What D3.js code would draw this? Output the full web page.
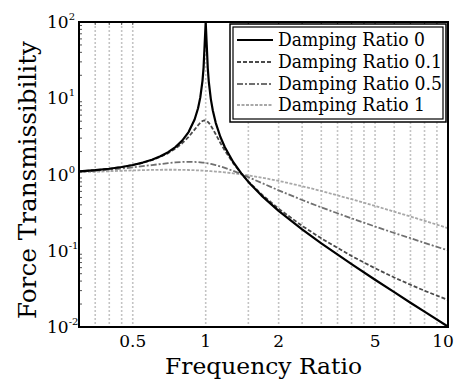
<!DOCTYPE html>
<html>
<head>
<meta charset="utf-8">
<script src="https://cdn.jsdelivr.net/npm/d3@7"></script>
<style>
  html, body { margin: 0; padding: 0; background: #fff; }
  svg { display: block; }
</style>
</head>
<body>
<svg id="chart" width="454" height="380" font-family="'DejaVu Serif', 'Liberation Serif', serif"></svg>
<script>
// ---- data ----
const frequencyRatio = [0.3, 0.35, 0.4, 0.45, 0.5, 0.55, 0.6, 0.65, 0.7, 0.75, 0.8, 0.85, 0.9, 0.93, 0.95, 0.97, 0.98, 0.99, 1.0, 1.01, 1.02, 1.03, 1.05, 1.07, 1.1, 1.15, 1.2, 1.3, 1.4, 1.5, 1.7, 2, 2.5, 3, 4, 5, 6, 7, 8, 10];
const damping0   = [1.099, 1.140, 1.190, 1.254, 1.333, 1.434, 1.563, 1.732, 1.961, 2.286, 2.778, 3.604, 5.263, 7.402, 10.26, 16.92, 25.25, 50.25, 100, 49.75, 24.75, 16.42, 9.756, 6.901, 4.762, 3.101, 2.273, 1.449, 1.042, 0.800, 0.529, 0.333, 0.1905, 0.125, 0.0667, 0.0417, 0.0286, 0.0208, 0.0159, 0.0101];
const damping01  = [1.099, 1.139, 1.189, 1.251, 1.328, 1.425, 1.547, 1.704, 1.909, 2.186, 2.571, 3.117, 3.882, 4.425, 4.766, 5.023, 5.096, 5.123, 5.099, 5.026, 4.908, 4.753, 4.373, 3.957, 3.367, 2.590, 2.052, 1.401, 1.039, 0.812, 0.550, 0.356, 0.212, 0.1454, 0.0853, 0.0589, 0.0446, 0.0358, 0.0299, 0.0226];
const damping05  = [1.090, 1.122, 1.158, 1.198, 1.240, 1.285, 1.329, 1.372, 1.409, 1.440, 1.460, 1.468, 1.463, 1.453, 1.444, 1.434, 1.428, 1.421, 1.414, 1.407, 1.399, 1.391, 1.374, 1.356, 1.328, 1.276, 1.222, 1.114, 1.014, 0.923, 0.776, 0.620, 0.463, 0.370, 0.266, 0.208, 0.171, 0.146, 0.127, 0.101];
const damping1   = [1.070, 1.087, 1.104, 1.119, 1.131, 1.141, 1.149, 1.153, 1.155, 1.154, 1.151, 1.145, 1.138, 1.132, 1.129, 1.125, 1.122, 1.120, 1.118, 1.116, 1.114, 1.111, 1.106, 1.101, 1.094, 1.080, 1.066, 1.036, 1.005, 0.973, 0.911, 0.825, 0.703, 0.608, 0.474, 0.387, 0.325, 0.281, 0.247, 0.198];
const seriesNames = ["Damping Ratio 0", "Damping Ratio 0.1", "Damping Ratio 0.5", "Damping Ratio 1"];
const xTickValues = [0.5, 1, 2, 5, 10];
const xTickLabels = ["0.5", "1", "2", "5", "10"];
const xGridValues = [0.35, 0.4, 0.45, 0.5, 1, 1.5, 2, 2.5, 3, 3.5, 4, 4.5, 5, 6, 7, 8, 9];
const yTickValues = [100, 10, 1, 0.1, 0.01];
const yTickExponents = ["2", "1", "0", "-1", "-2"];

// ---- layout ----
const L = 79, R = 448, T = 22, B = 327;
const svg = d3.select("#chart");

const x = d3.scaleLog().domain([0.3, 10]).range([L, R]);
const y = d3.scaleLog().domain([0.01, 100]).range([B, T]);

const styles = [
  { color: "#000000", width: 2.2, dash: null },
  { color: "#4a4a4a", width: 1.8, dash: "4,2" },
  { color: "#707070", width: 1.8, dash: "6,2,2,2" },
  { color: "#a8a8a8", width: 1.8, dash: "3,1.5" }
];
const seriesValues = [damping0, damping01, damping05, damping1];

svg.append("defs").append("clipPath").attr("id", "plotclip")
  .append("rect").attr("x", L).attr("y", T).attr("width", R - L).attr("height", B - T);

// vertical grid
svg.append("g").selectAll("line").data(xGridValues).join("line")
  .attr("x1", d => x(d)).attr("x2", d => x(d))
  .attr("y1", T).attr("y2", B)
  .attr("stroke", "#c4c4c4").attr("stroke-width", 1.6)
  .attr("stroke-dasharray", "2,2");

// minor y ticks on left axis (inside)
const yMinor = [];
[0.01, 0.1, 1, 10].forEach(dec => { for (let k = 2; k <= 9; k++) yMinor.push(dec * k); });
svg.append("g").selectAll("line").data(yMinor).join("line")
  .attr("x1", L).attr("x2", L + 3)
  .attr("y1", d => y(d)).attr("y2", d => y(d))
  .attr("stroke", "#555").attr("stroke-width", 1);
// top small ticks at grid positions
svg.append("g").selectAll("line").data(xGridValues).join("line")
  .attr("x1", d => x(d)).attr("x2", d => x(d))
  .attr("y1", T).attr("y2", T + 3)
  .attr("stroke", "#555").attr("stroke-width", 1);

// curves
const line = d3.line()
  .x((d, i) => x(frequencyRatio[i]))
  .y(d => y(d));
const curves = svg.append("g").attr("clip-path", "url(#plotclip)");
[3, 2, 1, 0].forEach(i => {
  curves.append("path")
    .datum(seriesValues[i])
    .attr("d", line)
    .attr("fill", "none")
    .attr("stroke", styles[i].color)
    .attr("stroke-width", styles[i].width)
    .attr("stroke-dasharray", styles[i].dash)
    .attr("stroke-linejoin", "round");
});

// frame
svg.append("rect").attr("x", L).attr("y", T).attr("width", R - L).attr("height", B - T)
  .attr("fill", "none").attr("stroke", "#000").attr("stroke-width", 2);

// x tick labels
const xAxis = svg.append("g");
xAxis.selectAll("text").data(xTickValues).join("text")
  .attr("x", d => Math.min(x(d), 443)).attr("y", 347)
  .attr("text-anchor", "middle")
  .attr("font-size", 17)
  .text((d, i) => xTickLabels[i]);

// y tick labels 10^n
const yAxis = svg.append("g");
yTickValues.forEach((v, i) => {
  const t = yAxis.append("text")
    .attr("x", 47).attr("y", y(v) + 6)
    .attr("font-size", 17);
  t.append("tspan").text("10");
  t.append("tspan").attr("dy", -8).attr("font-size", 10).text(yTickExponents[i]);
});

// axis titles
svg.append("text")
  .attr("x", (L + R) / 2).attr("y", 374)
  .attr("text-anchor", "middle")
  .attr("font-size", 22)
  .attr("textLength", 197).attr("lengthAdjust", "spacingAndGlyphs")
  .text("Frequency Ratio");

svg.append("text")
  .attr("transform", `translate(36, 180) rotate(-90)`)
  .attr("text-anchor", "middle")
  .attr("font-size", 24)
  .attr("textLength", 278).attr("lengthAdjust", "spacingAndGlyphs")
  .text("Force Transmissibility");

// legend
const lg = svg.append("g");
lg.append("rect").attr("x", 230).attr("y", 24).attr("width", 216).attr("height", 98)
  .attr("fill", "#fff").attr("stroke", "#000").attr("stroke-width", 1.5);
lg.append("rect").attr("x", 233).attr("y", 27).attr("width", 210).attr("height", 92)
  .attr("fill", "none").attr("stroke", "#000").attr("stroke-width", 1.2);
const rowY = [40, 62, 84, 105];
const textLens = [147, 164, 164, 147];
seriesNames.forEach((name, i) => {
  lg.append("line")
    .attr("x1", 237).attr("x2", 273)
    .attr("y1", rowY[i]).attr("y2", rowY[i])
    .attr("stroke", styles[i].color)
    .attr("stroke-width", styles[i].width)
    .attr("stroke-dasharray", styles[i].dash);
  lg.append("text")
    .attr("x", 278).attr("y", rowY[i] + 6)
    .attr("font-size", 18)
    .attr("textLength", textLens[i]).attr("lengthAdjust", "spacingAndGlyphs")
    .text(name);
});
</script>
</body>
</html>
